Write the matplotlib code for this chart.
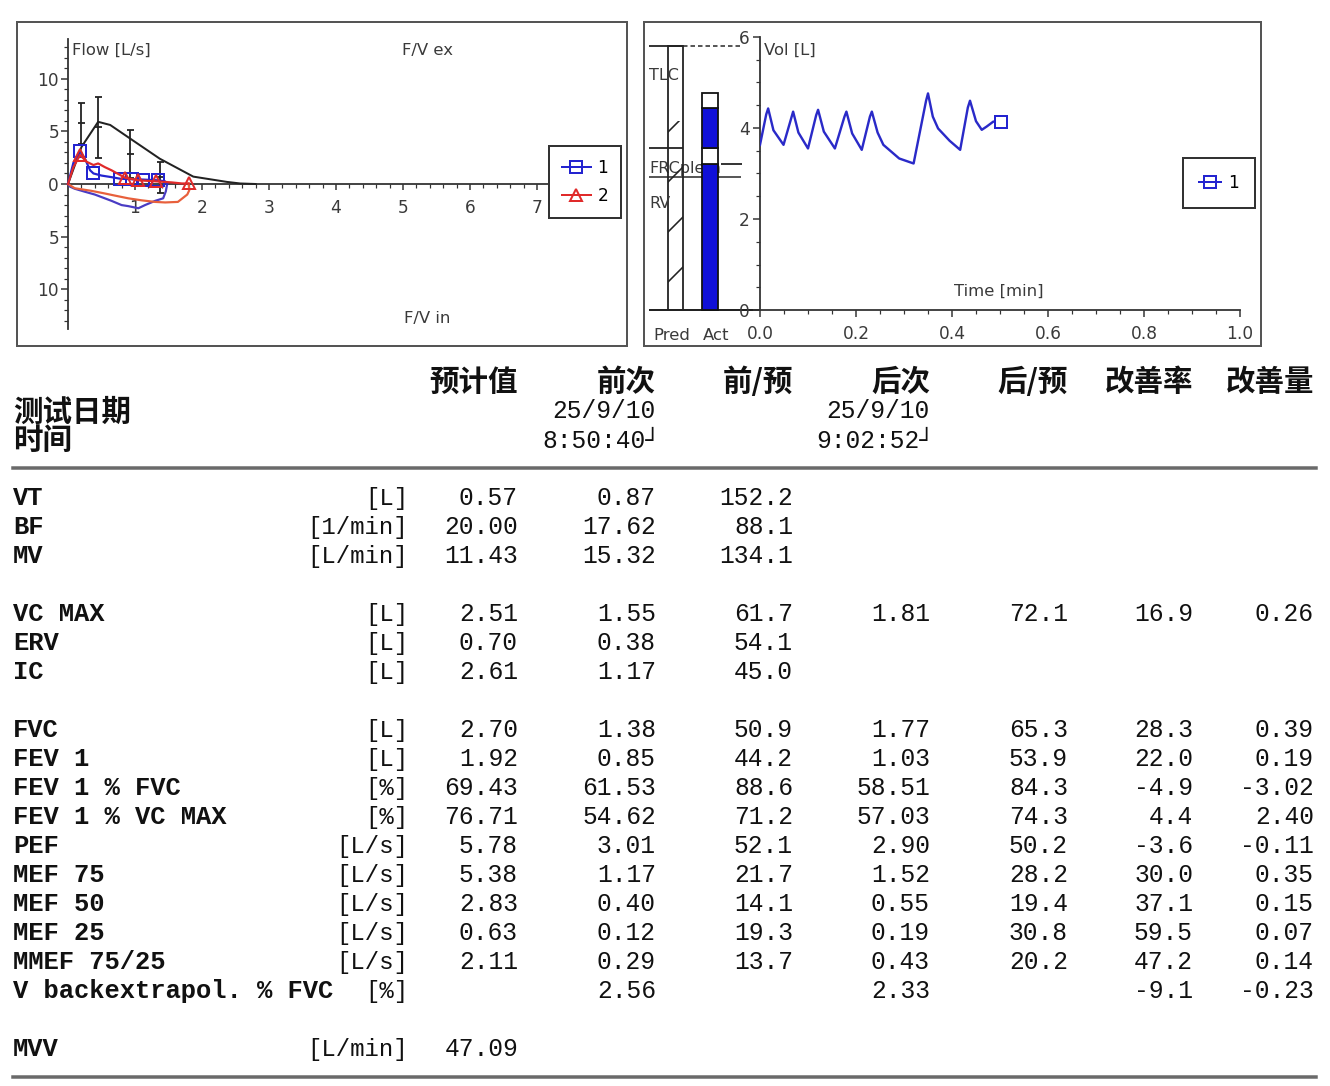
import numpy as np
import matplotlib
matplotlib.use('Agg')
import matplotlib.pyplot as plt
from matplotlib.patches import Rectangle
from matplotlib.lines import Line2D
from matplotlib.ticker import FixedLocator, FixedFormatter

# ---------------- data ----------------
# Flow-volume loop (left panel)
pred_vol = [0, 0.20, 0.45, 0.63, 0.93, 1.37, 1.87, 2.37, 2.57, 2.80]
pred_flow = [0, 3.5, 5.9, 5.6, 4.3, 2.4, 0.7, 0.2, 0.05, 0.0]
ebar_vol = [0.20, 0.45, 0.93, 1.37]
ebar_flow = [5.78, 5.38, 2.83, 0.63]
ebar_err = [1.95, 2.9, 2.3, 1.5]

t1_ex_vol = [0, 0.08, 0.18, 0.26, 0.33, 0.38, 0.50, 0.65, 0.78, 0.95, 1.12, 1.34, 1.45, 1.48]
t1_ex_flow = [0, 2.0, 3.1, 2.3, 1.3, 1.0, 0.8, 0.65, 0.5, 0.45, 0.42, 0.35, 0.25, 0.0]
t1_marks = [2, 5, 8, 9, 10, 11]
t1_in_vol = [1.48, 1.46, 1.42, 1.30, 1.15, 1.05, 0.90, 0.80, 0.65, 0.55, 0.40, 0.25, 0.10, 0.03, 0]
t1_in_flow = [0, -0.7, -1.36, -1.6, -2.0, -2.3, -2.1, -2.0, -1.6, -1.36, -1.0, -0.73, -0.45, -0.25, 0]

t2_ex_vol = [0, 0.08, 0.18, 0.28, 0.38, 0.45, 0.55, 0.65, 0.85, 1.05, 1.32, 1.55, 1.70, 1.80]
t2_ex_flow = [0, 1.6, 2.75, 2.1, 1.8, 1.95, 1.6, 1.3, 0.6, 0.35, 0.25, 0.15, 0.05, 0.05]
t2_marks = [2, 8, 9, 10, 13]
t2_in_vol = [1.80, 1.81, 1.78, 1.64, 1.45, 1.30, 1.10, 0.90, 0.70, 0.55, 0.35, 0.10, 0]
t2_in_flow = [0.05, -0.6, -1.0, -1.7, -1.75, -1.7, -1.55, -1.36, -1.1, -0.9, -0.65, -0.4, 0]

# Volume-time trace (right panel)
vt_time = [0, 0.013, 0.017, 0.028, 0.049, 0.066, 0.069, 0.080, 0.100, 0.117, 0.121, 0.133,
           0.156, 0.176, 0.180, 0.192, 0.212, 0.229, 0.233, 0.245, 0.257, 0.290, 0.320,
           0.346, 0.350, 0.360, 0.371, 0.395, 0.417, 0.433, 0.4375, 0.450, 0.462, 0.472,
           0.486, 0.503]
vt_vol = [3.63, 4.30, 4.43, 3.95, 3.63, 4.25, 4.36, 3.90, 3.55, 4.28, 4.40, 3.92,
          3.55, 4.25, 4.36, 3.88, 3.52, 4.25, 4.36, 3.90, 3.63, 3.33, 3.22,
          4.60, 4.76, 4.25, 3.99, 3.72, 3.52, 4.45, 4.60, 4.15, 3.96, 4.03,
          4.14, 4.14]

# Lung volume bars
bar_categories = ['Pred', 'Act']
pred_tlc = 5.80
pred_frc = 3.57
pred_hatch_top = 4.15
frc_pleth = 2.93
act_levels = [0, 3.21, 3.57, 4.43, 4.76]
act_fill = ['#1010d8', 'white', '#1010d8', 'white']

# Table
col_headers = ['预计值', '前次', '前/预', '后次', '后/预', '改善率', '改善量']
col_decimals = [2, 2, 1, 2, 1, 1, 2]
pre_date, pre_time = '25/9/10', '8:50:40┘'
post_date, post_time = '25/9/10', '9:02:52┘'
row_labels = ['VT', 'BF', 'MV', 'VC MAX', 'ERV', 'IC', 'FVC', 'FEV 1', 'FEV 1 % FVC',
              'FEV 1 % VC MAX', 'PEF', 'MEF 75', 'MEF 50', 'MEF 25', 'MMEF 75/25',
              'V backextrapol. % FVC', 'MVV']
row_groups = [0, 0, 0, 1, 1, 1, 2, 2, 2, 2, 2, 2, 2, 2, 2, 2, 3]
row_units = ['[L]', '[1/min]', '[L/min]', '[L]', '[L]', '[L]', '[L]', '[L]', '[%]',
             '[%]', '[L/s]', '[L/s]', '[L/s]', '[L/s]', '[L/s]', '[%]', '[L/min]']
N = None
col_pred = [0.57, 20.00, 11.43, 2.51, 0.70, 2.61, 2.70, 1.92, 69.43, 76.71, 5.78, 5.38, 2.83, 0.63, 2.11, N, 47.09]
col_pre = [0.87, 17.62, 15.32, 1.55, 0.38, 1.17, 1.38, 0.85, 61.53, 54.62, 3.01, 1.17, 0.40, 0.12, 0.29, 2.56, N]
col_pre_pct = [152.2, 88.1, 134.1, 61.7, 54.1, 45.0, 50.9, 44.2, 88.6, 71.2, 52.1, 21.7, 14.1, 19.3, 13.7, N, N]
col_post = [N, N, N, 1.81, N, N, 1.77, 1.03, 58.51, 57.03, 2.90, 1.52, 0.55, 0.19, 0.43, 2.33, N]
col_post_pct = [N, N, N, 72.1, N, N, 65.3, 53.9, 84.3, 74.3, 50.2, 28.2, 19.4, 30.8, 20.2, N, N]
col_impr_pct = [N, N, N, 16.9, N, N, 28.3, 22.0, -4.9, 4.4, -3.6, 30.0, 37.1, 59.5, 47.2, -9.1, N]
col_impr_amt = [N, N, N, 0.26, N, N, 0.39, 0.19, -3.02, 2.40, -0.11, 0.35, 0.15, 0.07, 0.14, -0.23, N]

# ---------------- figure ----------------
W, H, DPI = 1330, 1086, 150
def P(px):
    return px * 72.0 / DPI

plt.rcParams['hatch.linewidth'] = P(1.6)
fig = plt.figure(figsize=(W / DPI, H / DPI), dpi=DPI)
fig.patch.set_facecolor('white')

def frect(x0, y0, x1, y1):
    return [x0 / W, 1 - y1 / H, (x1 - x0) / W, (y1 - y0) / H]

def fxy(x, y):
    return x / W, 1 - y / H

AXC = '#333333'
TXT = '#3a3a3a'
SANS = ['DejaVu Sans']
MONO = ['Liberation Mono', 'DejaVu Sans Mono']
CJK = ['Noto Sans CJK SC', 'DejaVu Sans']
BLUE = '#2424d0'
BLUE_IN = '#4a3cc4'
RED = '#e02a2a'
RED_IN = '#e8603c'

# panel frames
for (x0, y0, x1, y1) in [(17, 22, 627, 346), (644, 22, 1261, 346)]:
    fig.add_artist(Rectangle(fxy(x0, y1), (x1 - x0) / W, (y1 - y0) / H,
                             transform=fig.transFigure, fill=False,
                             edgecolor='#555555', lw=P(2)))

# ---------- left panel: flow-volume ----------
axL = fig.add_axes(frect(17, 22, 627, 346))
axL.patch.set_alpha(0)
axL.set_xlim((17 - 68) / 67.0, (627 - 68) / 67.0)
axL.set_ylim(-(346 - 184) / 10.54, (184 - 22) / 10.54)
for s in ['top', 'right']:
    axL.spines[s].set_visible(False)
for s in ['left', 'bottom']:
    axL.spines[s].set_position(('data', 0))
    axL.spines[s].set_color(AXC)
    axL.spines[s].set_linewidth(P(1.8))
axL.spines['left'].set_bounds(-13.8, 13.8)
axL.spines['bottom'].set_bounds(0, 7.2)
axL.xaxis.set_major_locator(FixedLocator([1, 2, 3, 4, 5, 6, 7]))
axL.xaxis.set_minor_locator(FixedLocator(np.arange(0.2, 7.2, 0.2)))
yt = [-10, -5, 0, 5, 10]
axL.yaxis.set_major_locator(FixedLocator(yt))
axL.yaxis.set_major_formatter(FixedFormatter([str(abs(v)) for v in yt]))
axL.yaxis.set_minor_locator(FixedLocator(np.arange(-13, 14, 1)))
axL.tick_params(axis='y', which='major', direction='out', length=P(7), width=P(1.5),
                pad=P(2), labelsize=P(17), colors=AXC, labelcolor=TXT)
axL.tick_params(axis='y', which='minor', direction='out', length=P(4), width=P(1.2), colors=AXC)
axL.tick_params(axis='x', which='major', direction='out', length=P(6), width=P(1.5),
                pad=P(9), labelsize=P(17), colors=AXC, labelcolor=TXT)
axL.tick_params(axis='x', which='minor', direction='out', length=P(3.5), width=P(1.2), colors=AXC)

axL.plot(pred_vol, pred_flow, color='#222222', lw=P(2), zorder=3)
axL.errorbar(ebar_vol, ebar_flow, yerr=ebar_err, fmt='_', color='#222222',
             ms=P(7), mew=P(1.8), elinewidth=P(1.8), capsize=P(3.5), capthick=P(1.8), zorder=3)
axL.plot(t1_in_vol, t1_in_flow, color=BLUE_IN, lw=P(2.2), zorder=4)
axL.plot(t2_in_vol, t2_in_flow, color=RED_IN, lw=P(2.2), zorder=4)
axL.plot(t1_ex_vol, t1_ex_flow, color=BLUE, lw=P(2.2), marker='s', markevery=t1_marks,
         ms=P(12), mfc='none', mec=BLUE, mew=P(2), zorder=5)
axL.plot(t2_ex_vol, t2_ex_flow, color=RED, lw=P(2.2), marker='^', markevery=t2_marks,
         ms=P(12), mfc='none', mec=RED, mew=P(2), zorder=6)

fig.text(*fxy(72, 50), 'Flow [L/s]', ha='left', va='center', fontsize=P(16.5), color=TXT, family=SANS)
fig.text(*fxy(427, 50), 'F/V ex', ha='center', va='center', fontsize=P(16.5), color=TXT, family=SANS)
fig.text(*fxy(427, 318), 'F/V in', ha='center', va='center', fontsize=P(16.5), color=TXT, family=SANS)

hL = [Line2D([], [], color=BLUE, lw=P(2), marker='s', ms=P(12), mfc='none', mec=BLUE, mew=P(2)),
      Line2D([], [], color=RED, lw=P(2), marker='^', ms=P(12), mfc='none', mec=RED, mew=P(2))]
legL = axL.legend(hL, ['1', '2'], loc='upper left', bbox_to_anchor=fxy(549, 146),
                  bbox_transform=fig.transFigure, borderaxespad=0, frameon=True,
                  fancybox=False, edgecolor='#333333', framealpha=1,
                  handlelength=1.7, handletextpad=0.4, borderpad=0.75, labelspacing=0.6,
                  prop={'family': SANS, 'size': P(17)})
legL.get_frame().set_linewidth(P(2))

# ---------- right panel: lung volume bars ----------
axB = fig.add_axes(frect(644, 22, 760, 346))
axB.patch.set_alpha(0)
axB.set_xlim((644 - 675.7) / 34.5, (760 - 675.7) / 34.5)
ylimR = (-(346 - 310) / 45.5, (310 - 22) / 45.5)
axB.set_ylim(*ylimR)
axB.axis('off')
bw = 15.5 / 34.5
xl = (649 - 675.7) / 34.5
axB.bar(0, pred_hatch_top, width=bw, fill=False, hatch='/', lw=0, edgecolor='#222222', zorder=2)
axB.bar(0, pred_tlc, width=bw, fill=False, edgecolor='#222222', lw=P(1.8), zorder=3)
axB.hlines(pred_tlc, xl, bw / 2, color='#222222', lw=P(1.8), zorder=3)
axB.hlines(pred_tlc, bw / 2, (741 - 675.7) / 34.5, color='#222222', lw=P(1.5),
           linestyles=(0, (3, 2)), zorder=3)
axB.hlines(pred_frc, xl, bw / 2, color='#222222', lw=P(1.8), zorder=3)
axB.hlines(frc_pleth, xl, (741 - 675.7) / 34.5, color='#222222', lw=P(1.5), zorder=3)
axB.hlines(act_levels[1], (721 - 675.7) / 34.5, (742 - 675.7) / 34.5, color='#222222', lw=P(1.8), zorder=3)
axB.hlines(0, xl, (760 - 675.7) / 34.5, color='#222222', lw=P(2), zorder=3)
axB.text(xl, frc_pleth + 0.02, 'FRCpleth', ha='left', va='bottom', fontsize=P(16),
         color=TXT, family=SANS, zorder=1)
for lo, hi, fc in zip(act_levels[:-1], act_levels[1:], act_fill):
    axB.bar(1, hi - lo, bottom=lo, width=bw, color=fc, edgecolor='#111111', lw=P(1.8), zorder=4)
axB.text(xl, 5.15, 'TLC', ha='left', va='center', fontsize=P(16), color=TXT, family=SANS)
axB.text(xl, 2.35, 'RV', ha='left', va='center', fontsize=P(16), color=TXT, family=SANS)
for i, c in enumerate(bar_categories):
    axB.text(i - 0.12 + 0.3 * i, -0.55, c, ha='center', va='center', fontsize=P(16.5),
             color=TXT, family=SANS)

# ---------- right panel: volume-time ----------
axR = fig.add_axes(frect(760, 22, 1261, 346))
axR.patch.set_alpha(0)
axR.set_xlim(0, (1261 - 760) / 480.0)
axR.set_ylim(*ylimR)
for s in ['top', 'right']:
    axR.spines[s].set_visible(False)
axR.spines['bottom'].set_position(('data', 0))
axR.spines['left'].set_bounds(0, 6)
axR.spines['bottom'].set_bounds(0, 1.0)
for s in ['left', 'bottom']:
    axR.spines[s].set_color(AXC)
    axR.spines[s].set_linewidth(P(1.8))
xtR = [0, 0.2, 0.4, 0.6, 0.8, 1.0]
axR.xaxis.set_major_locator(FixedLocator(xtR))
axR.xaxis.set_major_formatter(FixedFormatter(['%.1f' % v for v in xtR]))
axR.xaxis.set_minor_locator(FixedLocator(np.arange(0.05, 1.0, 0.05)))
axR.yaxis.set_major_locator(FixedLocator([0, 2, 4, 6]))
axR.yaxis.set_minor_locator(FixedLocator(np.arange(0.5, 6, 0.5)))
axR.tick_params(axis='both', which='major', direction='out', length=P(7), width=P(1.5),
                labelsize=P(17), colors=AXC, labelcolor=TXT)
axR.tick_params(axis='x', which='major', pad=P(8))
axR.tick_params(axis='y', which='major', pad=P(3))
axR.tick_params(axis='both', which='minor', direction='out', length=P(4), width=P(1.2), colors=AXC)
axR.plot(vt_time, vt_vol, color='#2a2ac8', lw=P(2.4), zorder=4)
axR.plot(vt_time[-1:], vt_vol[-1:], 's', ms=P(12), mfc='white', mec=BLUE, mew=P(2), zorder=5)
fig.text(*fxy(764, 50), 'Vol [L]', ha='left', va='center', fontsize=P(16.5), color=TXT, family=SANS)
fig.text(*fxy(999, 291), 'Time [min]', ha='center', va='center', fontsize=P(16.5), color=TXT, family=SANS)
hR = [Line2D([], [], color=BLUE, lw=P(2), marker='s', ms=P(12), mfc='none', mec=BLUE, mew=P(2))]
legR = axR.legend(hR, ['1'], loc='upper left', bbox_to_anchor=fxy(1183, 158),
                  bbox_transform=fig.transFigure, borderaxespad=0, frameon=True,
                  fancybox=False, edgecolor='#333333', framealpha=1,
                  handlelength=1.3, handletextpad=0.4, borderpad=0.95,
                  prop={'family': SANS, 'size': P(17)})
legR.get_frame().set_linewidth(P(2))

# ---------- table ----------
TC = '#111111'
NUM_PX = 24.7
UNIT_PX = 24.0
LAB_PX = 25.5
CJK_PX = 29.5
col_right = [518, 656, 793, 930, 1068, 1193, 1314]
for hdr, xr in zip(col_headers, col_right):
    fig.text(*fxy(xr, 391), hdr, ha='right', va='baseline', fontsize=P(CJK_PX),
             fontweight='heavy', color=TC, family=CJK)
fig.text(*fxy(13, 421), '测试日期', ha='left', va='baseline', fontsize=P(CJK_PX),
         fontweight='heavy', color=TC, family=CJK)
fig.text(*fxy(13, 449), '时间', ha='left', va='baseline', fontsize=P(CJK_PX),
         fontweight='heavy', color=TC, family=CJK)
fig.text(*fxy(656, 418), pre_date, ha='right', va='baseline', fontsize=P(NUM_PX), color=TC, family=MONO)
fig.text(*fxy(660, 448), pre_time, ha='right', va='baseline', fontsize=P(NUM_PX), color=TC, family=MONO)
fig.text(*fxy(930, 418), post_date, ha='right', va='baseline', fontsize=P(NUM_PX), color=TC, family=MONO)
fig.text(*fxy(934, 448), post_time, ha='right', va='baseline', fontsize=P(NUM_PX), color=TC, family=MONO)

for yy in (468, 1077):
    fig.add_artist(Line2D([13 / W, 1316 / W], [1 - yy / H, 1 - yy / H], transform=fig.transFigure,
                          color='#6a6a6a', lw=P(3.5)))

columns = [col_pred, col_pre, col_pre_pct, col_post, col_post_pct, col_impr_pct, col_impr_amt]
for i, (lab, unit) in enumerate(zip(row_labels, row_units)):
    slot = i + row_groups[i]
    yb = 505 + slot * 29
    fig.text(*fxy(13, yb), lab, ha='left', va='baseline', fontsize=P(LAB_PX),
             fontweight='bold', color=TC, family=MONO)
    fig.text(*fxy(408, yb), unit, ha='right', va='baseline', fontsize=P(UNIT_PX),
             color=TC, family=MONO)
    for col, dec, xr in zip(columns, col_decimals, col_right):
        v = col[i]
        if v is None:
            continue
        fig.text(*fxy(xr, yb), f'{v:.{dec}f}', ha='right', va='baseline',
                 fontsize=P(NUM_PX), color=TC, family=MONO)

fig.savefig('out.png', dpi=DPI, facecolor='white')
